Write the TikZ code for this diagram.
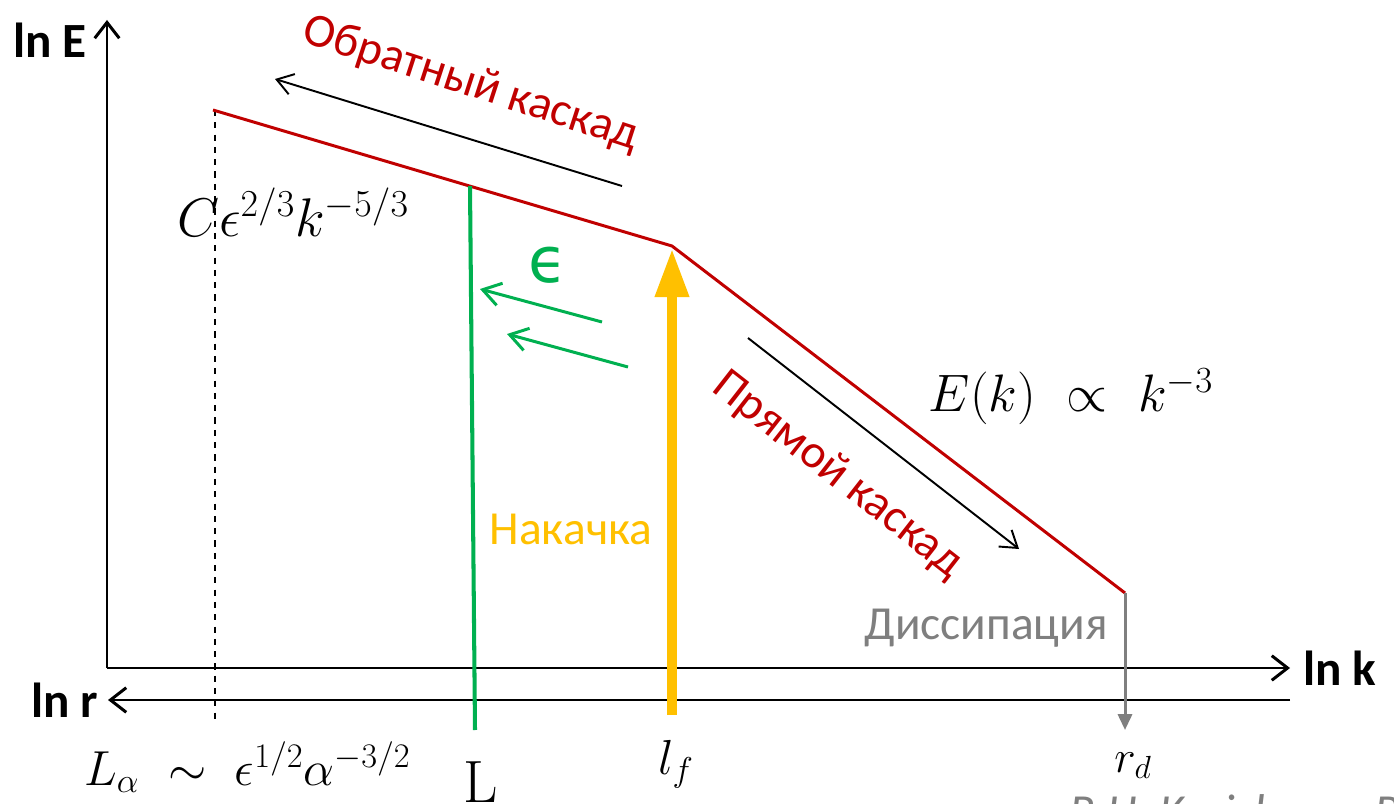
\RequirePackage{fix-cm}
\documentclass[tikz,border=0pt]{standalone}
\usepackage[no-math]{fontspec}
\usepackage{amsmath,amssymb}
\usetikzlibrary{arrows.meta,positioning}
\newfontfamily\calibri{Carlito}
\newfontfamily\epsfont{DejaVu Sans}
\definecolor{CascRed}{HTML}{C00000}
\definecolor{PumpYellow}{HTML}{FFC000}
\definecolor{FluxGreen}{HTML}{00B050}
\definecolor{DissGray}{HTML}{7F7F7F}

\begin{document}
\begin{tikzpicture}[x=0.02cm,y=-0.02cm,
  axis/.style={line width=1.7pt,-{Straight Barb[length=9pt,width=14pt]}},
  axlabel/.style={font=\calibri\bfseries\fontsize{28}{32}\selectfont},
  cascade/.style={line width=1.1pt,-{Straight Barb[length=9pt,width=12pt]}},
  flux/.style={FluxGreen,line width=1.7pt,-{Straight Barb[length=10pt,width=13pt]}},
  word/.style={font=\calibri\fontsize{27}{32}\selectfont},
  formula/.style={font=\fontsize{28}{34}\selectfont}
]
\useasboundingbox (0,0) rectangle (1394,804);
% axes
\coordinate (O) at (107,668);
\coordinate (Etip) at (107,20);
\coordinate (ktip) at (1290,668);
\coordinate (rstart) at (1290,700);
\coordinate (rtip) at (108,700);
\draw[axis] (O) -- (Etip);
\draw[axis] (O) -- (ktip);
\draw[axis] (rstart) -- (rtip);
\node[axlabel] (lnE) at (50,40) {ln E};
\node[axlabel,right=4pt of ktip] (lnk) {ln k};
\node[axlabel,left=2pt of rtip] (lnr) {ln r};
% spectrum
\coordinate (sp0) at (213,110);
\coordinate (knee) at (672,246);
\coordinate (sp1) at (1125,593);
\coordinate (dashtop) at (215,110);
\coordinate (dashbot) at (215,720);
\draw[dash pattern=on 3.5pt off 3.5pt,line width=0.7pt] (dashtop) -- (dashbot);
\draw[CascRed,line width=1.7pt] (sp0) -- (knee) -- (sp1);
% scales
\coordinate (Ltop) at (470,186);
\coordinate (Lbot) at (475,730);
\draw[FluxGreen,line width=2.3pt] (Ltop) -- (Lbot);
\coordinate (pumpbot) at (672,715);
\coordinate (pumptop) at (672,248);
\draw[PumpYellow,line width=6.2pt,-{Triangle[length=28pt,width=18pt]}] (pumpbot) -- (pumptop);
\coordinate (dissbot) at (1125,730);
\draw[DissGray,line width=1.7pt,-{Triangle[length=9pt,width=8pt]}] (sp1) -- (dissbot);
% cascades
\coordinate (inv0) at (622,186);
\coordinate (inv1) at (275,79);
\coordinate (dir0) at (748,338);
\coordinate (dir1) at (1019,549);
\draw[cascade] (inv0) -- (inv1);
\draw[cascade] (dir0) -- (dir1);
\node[word,text=CascRed,rotate=-18] (invtext) at (471,84) {Обратный каскад};
\node[word,text=CascRed,rotate=-38] (dirtext) at (838,475) {Прямой каскад};
% energy flux
\coordinate (fa0) at (602,322);
\coordinate (fa1) at (480,289);
\coordinate (fb0) at (628,367);
\coordinate (fb1) at (507,334);
\draw[flux] (fa0) -- (fa1);
\draw[flux] (fb0) -- (fb1);
\node[font=\epsfont\fontsize{36}{40}\selectfont,text=FluxGreen] (eps) at (548,265) {ϵ};
\node[word,text=PumpYellow] (pump) at (571,529) {Накачка};
\node[word,text=DissGray] (diss) at (986,628) {Диссипация};
% formulas
\node[formula,font=\fontsize{31}{36}\selectfont] (kolm) at (293,212) {$C\epsilon^{2/3}k^{-5/3}$};
\node[formula,font=\fontsize{30}{36}\selectfont] (enst) at (1071,397) {$E(k)\ \propto\ k^{-3}$};
\node[formula,anchor=base west] (Lalpha) at (78,785) {$L_\alpha\ \sim\ \epsilon^{1/2}\alpha^{-3/2}$};
\node[formula,font=\fontsize{34}{40}\selectfont,anchor=base,inner sep=0pt] (Llab) at (481,802) {L};
\node[formula,anchor=base] (lf) at (676,774) {$l_f$};
\node[formula,font=\fontsize{26}{30}\selectfont,anchor=base] (rd) at (1133,772) {$r_d$};
\node[word,text=DissGray,anchor=base west] (ref) at (1063,827) {\itshape R.H. Kraichnan, R};
\end{tikzpicture}
\end{document}
